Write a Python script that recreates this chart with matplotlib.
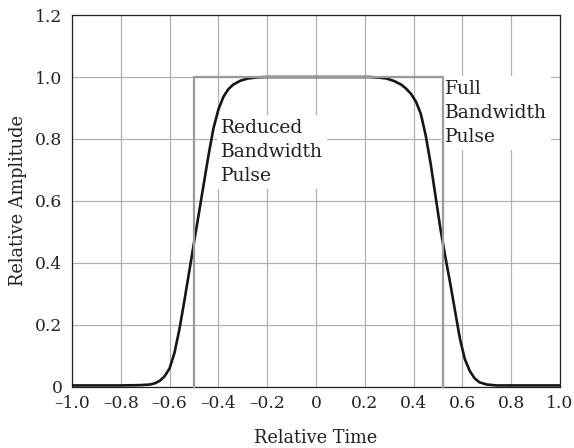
import numpy as np
import matplotlib
matplotlib.use("Agg")
import matplotlib.pyplot as plt

# reduced bandwidth pulse
time_reduced = [-1.0, -0.9, -0.8, -0.72, -0.68, -0.66, -0.64, -0.62, -0.6, -0.58, -0.56,
                -0.54, -0.52, -0.5, -0.48, -0.46, -0.44, -0.42, -0.40, -0.38, -0.36,
                -0.34, -0.31, -0.28, -0.24, -0.2, 0.0, 0.22, 0.26, 0.29, 0.32, 0.35,
                0.37, 0.39, 0.41, 0.43, 0.45, 0.47, 0.49, 0.51, 0.53, 0.55, 0.57,
                0.59, 0.61, 0.63, 0.65, 0.67, 0.70, 0.74, 0.8, 0.9, 1.0]
amp_reduced = [0.005, 0.005, 0.005, 0.006, 0.008, 0.012, 0.02, 0.035, 0.06, 0.11, 0.185,
               0.275, 0.37, 0.465, 0.56, 0.655, 0.75, 0.835, 0.895, 0.935, 0.96,
               0.975, 0.988, 0.995, 0.999, 1.0, 1.0, 1.0, 0.998, 0.995, 0.987, 0.975,
               0.962, 0.945, 0.92, 0.88, 0.81, 0.72, 0.615, 0.51, 0.42, 0.335, 0.245,
               0.155, 0.09, 0.052, 0.028, 0.015, 0.008, 0.005, 0.005, 0.005, 0.005]

# full bandwidth (rectangular) pulse
time_full = [-0.5, -0.5, 0.52, 0.52]
amp_full = [0.0, 1.0, 1.0, 0.0]

x_ticks = [-1.0, -0.8, -0.6, -0.4, -0.2, 0.0, 0.2, 0.4, 0.6, 0.8, 1.0]
x_labels = ["\u20131.0", "\u20130.8", "\u20130.6", "\u20130.4", "\u20130.2", "0",
            "0.2", "0.4", "0.6", "0.8", "1.0"]
y_ticks = [0.0, 0.2, 0.4, 0.6, 0.8, 1.0, 1.2]
y_labels = ["0", "0.2", "0.4", "0.6", "0.8", "1.0", "1.2"]

plt.rcParams['font.family'] = ['DejaVu Serif']

fig = plt.figure(figsize=(5.74, 4.48), dpi=100)
ax = fig.add_axes([0.1254, 0.1362, 0.8502, 0.8303])

ax.plot(time_reduced, amp_reduced, color='#161616', lw=1.9, zorder=3,
        solid_capstyle='butt', clip_on=False)
ax.plot(time_full, amp_full, color='#9a9a9a', lw=1.6, zorder=4, clip_on=False)

ax.set_xlim(-1.0, 1.0)
ax.set_ylim(0, 1.2)
ax.set_xticks(x_ticks)
ax.set_xticklabels(x_labels)
ax.set_yticks(y_ticks)
ax.set_yticklabels(y_labels)
ax.tick_params(length=0, labelsize=12.3, colors='#222222')
ax.tick_params(axis='x', pad=6)
ax.tick_params(axis='y', pad=7)
ax.grid(True, color='#b0b0b0', lw=0.9)
ax.set_axisbelow(True)
for s in ax.spines.values():
    s.set_color('#222222')
    s.set_linewidth(0.9)

ax.set_xlabel("Relative Time", fontsize=12.8, color='#222222', labelpad=12)
ax.set_ylabel("Relative Amplitude", fontsize=12.8, color='#222222', labelpad=6)

box = dict(facecolor='white', edgecolor='none', pad=3)
ax.text(-0.39, 0.865, "Reduced\nBandwidth\nPulse", fontsize=13.5, color='#222222',
        va='top', ha='left', linespacing=1.42, bbox=box, zorder=2)
ax.text(0.53, 0.99, "Full\nBandwidth\nPulse", fontsize=13.5, color='#222222',
        va='top', ha='left', linespacing=1.42, bbox=box, zorder=2)

fig.savefig("out.png", dpi=100)
